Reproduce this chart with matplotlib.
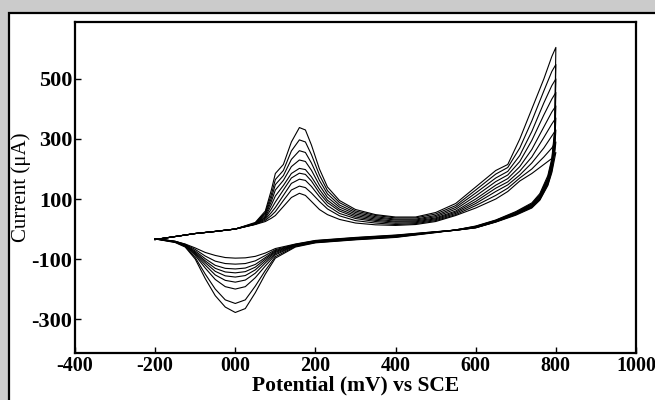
import matplotlib
matplotlib.use("Agg")
import matplotlib.pyplot as plt
from matplotlib.patches import Rectangle

# potentials (mV vs SCE) of the read-off points, forward and reverse sweeps
e_forward = [-200, -150, -100, -50, 0, 50, 75, 90, 100, 120, 140, 160, 175, 190, 210, 230,
             260, 300, 350, 400, 450, 500, 550, 600, 650, 680, 710, 740, 770, 790, 800]
e_reverse = [800, 797, 790, 780, 760, 740, 700, 650, 600, 550, 500, 400, 300, 200, 150,
             100, 75, 50, 25, 0, -25, -50, -75, -100, -125, -150, -200]

# current (uA) for each cycle, largest first
i_forward = [
    [-35, -25, -15, -8, 0, 22, 60, 130, 185, 215, 290, 338, 330, 280, 200, 140, 95, 65, 48, 40, 40, 55, 85, 140, 195, 215, 300, 400, 500, 575, 605],
    [-35, -25, -15, -8, 0, 20, 55, 115, 165, 195, 260, 297, 290, 248, 180, 128, 88, 60, 45, 37, 37, 50, 78, 130, 183, 205, 270, 360, 460, 525, 548],
    [-35, -25, -15, -8, 0, 19, 50, 103, 148, 178, 232, 261, 255, 220, 162, 117, 80, 55, 41, 33, 33, 45, 72, 120, 170, 192, 245, 325, 420, 478, 500],
    [-35, -25, -15, -8, 0, 18, 45, 92, 130, 162, 208, 230, 225, 196, 146, 106, 73, 50, 37, 30, 30, 41, 66, 110, 158, 180, 225, 295, 380, 433, 455],
    [-35, -25, -15, -8, 0, 17, 40, 80, 110, 145, 185, 202, 198, 174, 132, 96, 66, 45, 33, 26, 27, 37, 60, 100, 146, 168, 208, 265, 340, 390, 410],
    [-35, -25, -15, -8, 0, 17, 37, 67, 90, 130, 170, 186, 182, 160, 120, 88, 60, 40, 29, 23, 24, 34, 56, 92, 136, 157, 193, 240, 305, 350, 370],
    [-35, -25, -15, -8, 0, 16, 33, 55, 72, 112, 152, 166, 162, 142, 108, 78, 52, 35, 25, 19, 21, 31, 52, 85, 125, 147, 180, 220, 270, 310, 330],
    [-35, -25, -15, -8, 0, 16, 29, 45, 58, 95, 130, 143, 138, 120, 92, 67, 44, 28, 20, 15, 18, 28, 48, 78, 112, 136, 170, 200, 240, 270, 290],
    [-35, -25, -15, -8, 0, 15, 25, 36, 45, 75, 105, 119, 112, 92, 65, 48, 32, 20, 14, 12, 15, 25, 45, 70, 100, 125, 160, 185, 215, 235, 255],
]
i_reverse = [
    [605, 330, 235, 178, 118, 87, 58, 30, 10, -3, -12, -28, -36, -46, -60, -97, -150, -212, -265, -278, -260, -222, -165, -100, -60, -45, -33],
    [548, 320, 228, 172, 114, 84, 56, 29, 9, -3, -11, -27, -35, -45, -58, -92, -138, -190, -236, -248, -236, -200, -150, -95, -58, -44, -33],
    [500, 310, 222, 168, 111, 82, 54, 28, 8, -3, -11, -26, -34, -44, -56, -86, -123, -162, -192, -200, -192, -168, -130, -88, -56, -43, -33],
    [455, 300, 216, 164, 108, 80, 52, 27, 7, -3, -10, -25, -33, -43, -55, -82, -113, -147, -170, -177, -171, -153, -120, -84, -55, -43, -32],
    [410, 290, 210, 160, 105, 78, 51, 26, 6, -4, -10, -24, -32, -42, -54, -78, -106, -136, -155, -160, -156, -141, -112, -80, -54, -42, -32],
    [370, 280, 205, 156, 102, 76, 50, 25, 5, -4, -10, -23, -31, -41, -53, -75, -100, -127, -142, -146, -143, -131, -106, -77, -53, -42, -32],
    [330, 265, 200, 152, 100, 74, 49, 24, 5, -4, -10, -22, -30, -40, -52, -72, -95, -118, -130, -133, -131, -121, -99, -73, -52, -41, -32],
    [290, 250, 194, 148, 98, 72, 48, 24, 4, -4, -9, -21, -29, -39, -51, -69, -88, -106, -115, -117, -115, -107, -90, -68, -51, -41, -32],
    [255, 235, 188, 145, 96, 70, 46, 23, 4, -4, -9, -20, -28, -38, -50, -65, -80, -91, -96, -97, -95, -88, -78, -63, -50, -41, -32],
]

x_ticks = [-400, -200, 0, 200, 400, 600, 800, 1000]
x_tick_labels = ["-400", "-200", "000", "200", "400", "600", "800", "1000"]
y_ticks = [-300, -100, 100, 300, 500]
y_tick_labels = ["-300", "-100", "100", "300", "500"]

plt.rcParams['font.family'] = ['Liberation Serif', 'DejaVu Serif']
plt.rcParams['axes.unicode_minus'] = False

fig = plt.figure(figsize=(6.55, 4.0), dpi=100)
fig.patch.set_facecolor('#cbcbcb')

# white panel behind the plot, running off the right and bottom edges
panel = Rectangle((9 / 655, -0.05), 1.1, 0.05 + 1 - 13 / 400, transform=fig.transFigure,
                  facecolor='white', edgecolor='black', linewidth=1.6, zorder=-1)
fig.add_artist(panel)

ax = fig.add_axes([75 / 655, 1 - 353 / 400, (636 - 75) / 655, (353 - 21.6) / 400])
ax.set_facecolor('white')

for fwd, rev in zip(i_forward, i_reverse):
    ax.plot(e_forward + e_reverse, fwd + rev, color='black', linewidth=0.8)

ax.set_xlim(-400, 1000)
ax.set_ylim(-413, 691)
ax.set_xticks(x_ticks)
ax.set_xticklabels(x_tick_labels)
ax.set_yticks(y_ticks)
ax.set_yticklabels(y_tick_labels)
ax.tick_params(direction='in', length=4, width=1, pad=2)
ax.tick_params(axis='x', labelsize=14.5)
ax.tick_params(axis='y', labelsize=16)
for lbl in ax.get_xticklabels() + ax.get_yticklabels():
    lbl.set_fontweight('bold')
for sp in ax.spines.values():
    sp.set_linewidth(1.6)

ax.set_xlabel('Potential (mV) vs SCE', fontsize=15.5, fontweight='bold', labelpad=0)
ax.set_ylabel('Current (μA)', fontsize=15, labelpad=0)

fig.savefig('out.png', dpi=100, facecolor=fig.get_facecolor())
